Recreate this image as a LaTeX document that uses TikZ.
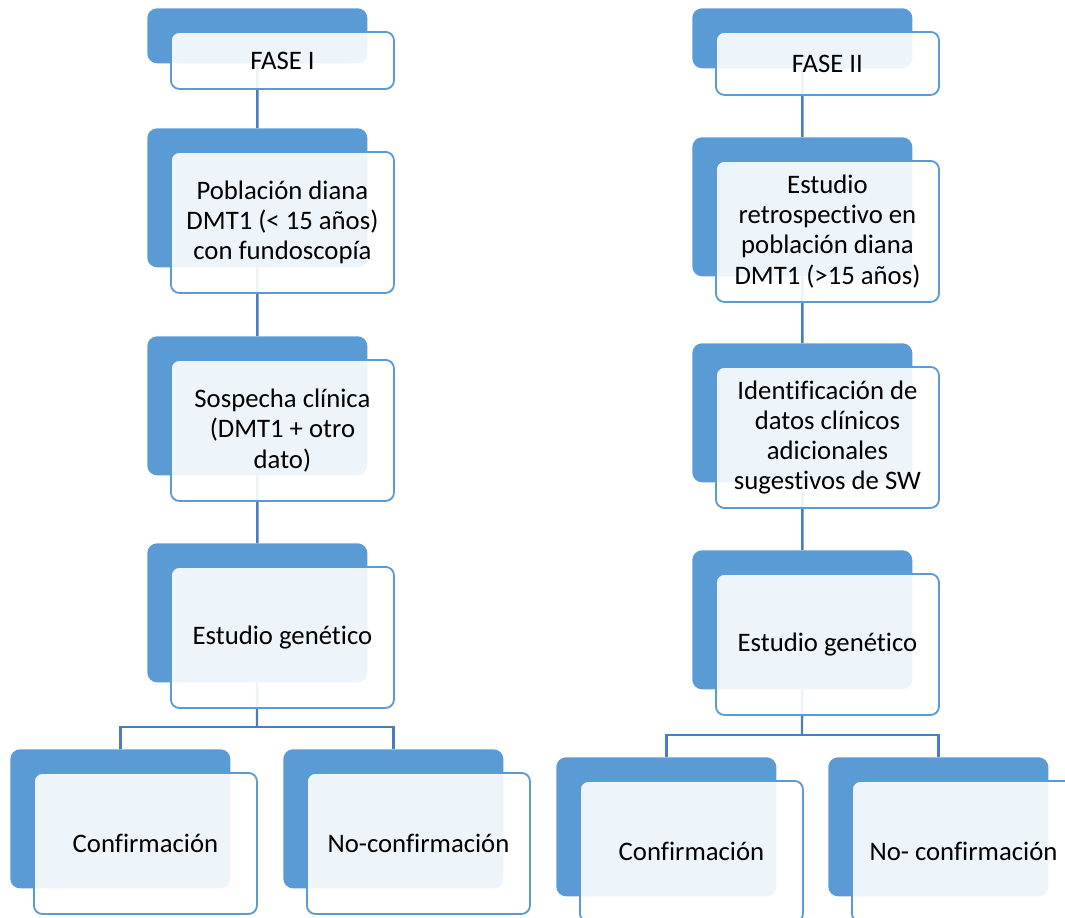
\documentclass[tikz,border=0pt]{standalone}
\usepackage{fontspec}
\setmainfont{Carlito}[Ligatures=NoCommon]
\usetikzlibrary{positioning,backgrounds,calc}

\begin{document}
\begin{tikzpicture}[
  x=0.025cm, y=-0.025cm,
  back/.style={fill=accent,rounded corners=7pt,minimum width=5.5cm,minimum height=3.475cm,anchor=north west,inner sep=0},
  small back/.style={back,minimum height=1.375cm},
  front/.style={draw=accent,line width=1.3pt,fill=white,fill opacity=.9,text opacity=1,rounded corners=6pt,minimum width=5.575cm,minimum height=3.525cm,anchor=north west,align=center,inner sep=2pt,font=\fontsize{19}{21.5}\selectfont},
  small front/.style={front,minimum height=1.425cm},
  link/.style={draw=link blue,line width=1.7pt},
]
  \definecolor{accent}{RGB}{91,155,213}
  \definecolor{link blue}{RGB}{74,126,187}
  \useasboundingbox (0,0) rectangle (1065,917);
  \clip (0,0) rectangle (1065,917);

  % fase I
  \node[small back] (l1) at (147,8) {};
  \node[back] (l2) at (147,128) {};
  \node[back] (l3) at (147,336) {};
  \node[back] (l4) at (147,543) {};
  \node[back] (l5) at (10,749) {};
  \node[back] (l6) at (283,749) {};

  \node[small front] (l1f) at ([shift={(23,23)}]l1.north west) {FASE I};
  \node[front] (l2f) at ([shift={(23,23)}]l2.north west) {Población diana\\DMT1 (< 15 años)\\con fundoscopía};
  \node[front] (l3f) at ([shift={(23,23)}]l3.north west) {Sospecha clínica\\(DMT1 + otro\\dato)};
  \node[front] (l4f) at ([shift={(23,23)}]l4.north west) {Estudio genético};
  \node[front] (l5f) at ([shift={(23,23)}]l5.north west) {Confirmación};
  \node[front] (l6f) at ([shift={(23,23)}]l6.north west) {No-confirmación};

  % fase II
  \node[small back,minimum height=1.5cm] (r1) at (692,8) {};
  \node[back] (r2) at (692,137) {};
  \node[back] (r3) at (692,343) {};
  \node[back] (r4) at (692,550) {};
  \node[back] (r5) at (556,757) {};
  \node[back] (r6) at (828,757) {};

  \node[small front,minimum height=1.575cm] (r1f) at ([shift={(23,23)}]r1.north west) {FASE II};
  \node[front] (r2f) at ([shift={(23,23)}]r2.north west) {Estudio\\retrospectivo en\\población diana\\DMT1 (>15 años)};
  \node[front] (r3f) at ([shift={(23,23)}]r3.north west) {Identificación de\\datos clínicos\\adicionales\\sugestivos de SW};
  \node[front] (r4f) at ([shift={(23,23)}]r4.north west) {Estudio genético};
  \node[front] (r5f) at ([shift={(23,23)}]r5.north west) {Confirmación};
  \node[front] (r6f) at ([shift={(23,23)}]r6.north west) {No- confirmación};

  \coordinate (lsplit) at (257,727);
  \coordinate (rsplit) at (802,735);

  \begin{scope}[on background layer]
    \draw[link] (l1) -- (l2) -- (l3) -- (l4) -- (lsplit);
    \draw[link] (lsplit) -| (l5);
    \draw[link] (lsplit) -| (l6);
    \draw[link] (r1) -- (r2) -- (r3) -- (r4) -- (rsplit);
    \draw[link] (rsplit) -| (r5);
    \draw[link] (rsplit) -| (r6);
  \end{scope}
\end{tikzpicture}
\end{document}
